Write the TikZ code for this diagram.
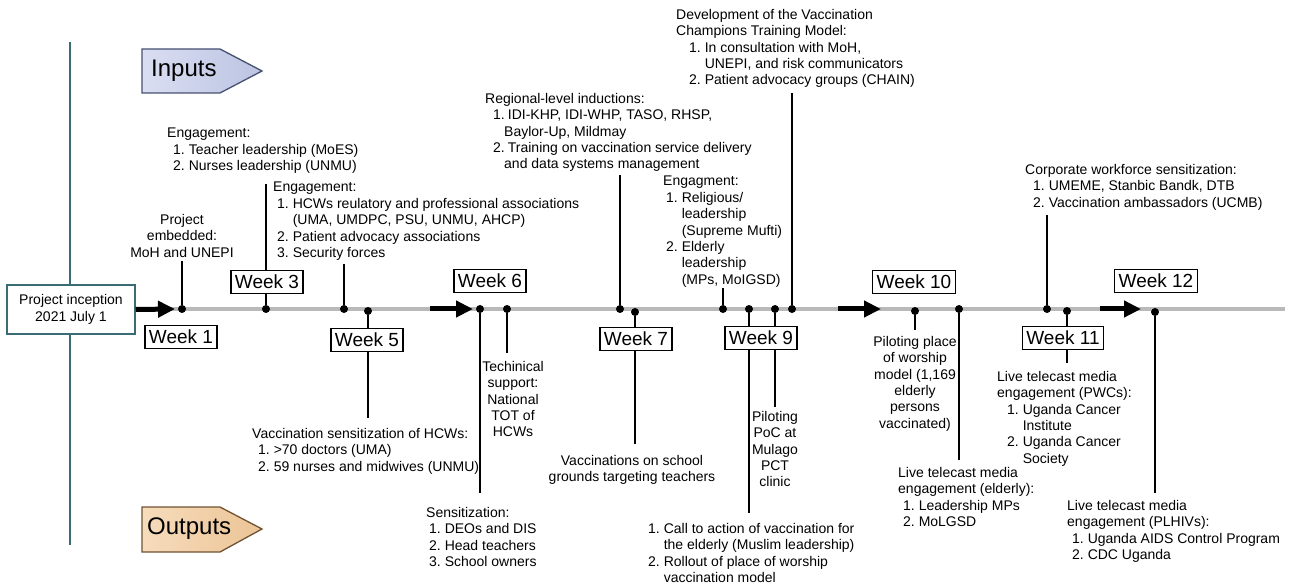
\documentclass[tikz,border=0pt]{standalone}
\usepackage{fontspec}
\setmainfont{Liberation Sans}
\usetikzlibrary{arrows.meta}

\definecolor{tealline}{RGB}{58,108,118}
\definecolor{timegray}{RGB}{185,185,185}
\definecolor{inL}{RGB}{218,222,242}
\definecolor{inR}{RGB}{188,196,226}
\definecolor{inBorder}{RGB}{70,80,112}
\definecolor{outL}{RGB}{246,220,188}
\definecolor{outR}{RGB}{236,196,150}
\definecolor{outBorder}{RGB}{112,82,50}

% numbered list lines
\newcommand{\nitem}[2]{\hspace*{#1pt}#2.\ }
\newcommand{\ncont}[1]{\hspace*{#1pt}\phantom{1.\ }}

\tikzset{
  txt/.style={font=\fontsize{14}{16.4}\selectfont, inner sep=0pt, align=left, anchor=north west},
  ctxt/.style={txt, align=center, anchor=north},
  week/.style={draw, line width=1.2pt, fill=white, font=\fontsize{19}{22}\selectfont,
    inner xsep=4pt, inner ysep=0pt, minimum height=23.5pt},
  incep/.style={draw=tealline, line width=1.5pt, fill=white, align=center,
    font=\fontsize{14}{16.4}\selectfont, minimum width=128pt, minimum height=49pt, inner sep=0pt},
  tagtxt/.style={font=\fontsize{24}{28}\selectfont, inner sep=0pt, anchor=west},
  dot/.style={circle, fill=black, inner sep=0pt, minimum size=8pt},
  stem/.style={line width=1.7pt},
  totext/.style={stem, shorten >=6pt},
  bigarrow/.style={line width=5pt, -{Triangle[length=17pt, width=16pt]}},
}

\begin{document}
\begin{tikzpicture}[x=1pt, y=-1pt]
\useasboundingbox (0,0) rectangle (1294,585);

% frame and time line
\coordinate (vtop) at (70,42);
\coordinate (vbot) at (70,545);
\draw[tealline, line width=1.5pt] (vtop) -- (vbot);
\coordinate (tlstart) at (135,309);
\coordinate (tlend) at (1285,309);
\draw[timegray, line width=3.5pt] (tlstart) -- (tlend);

\node[incep] (incep) at (71,309.5) {Project inception\\2021 July 1};

% inputs / outputs tags
\draw[inBorder, line width=1.3pt, left color=inL, right color=inR]
  (142,49) -- (220,49) -- (262,71) -- (220,93) -- (142,93) -- cycle;
\node[tagtxt] (inputs) at (151,71) {Inputs};
\draw[outBorder, line width=1.3pt, left color=outL, right color=outR]
  (142,507) -- (220,507) -- (262,529) -- (220,552) -- (142,552) -- cycle;
\node[tagtxt] (outputs) at (147,529) {Outputs};

% heavy arrows on the time line
\coordinate (tip1) at (175,309);
\coordinate (tail2) at (430,309);
\coordinate (tip2) at (473,309);
\coordinate (tail3) at (838,309);
\coordinate (tip3) at (881,309);
\coordinate (tail4) at (1100,309);
\coordinate (tip4) at (1141,309);
\draw[bigarrow] (incep.east) -- (tip1);
\draw[bigarrow] (tail2) -- (tip2);
\draw[bigarrow] (tail3) -- (tip3);
\draw[bigarrow] (tail4) -- (tip4);

% week labels
\node[week] (wk1) at (181,337) {Week 1};
\node[week] (wk3) at (267,282) {Week 3};
\node[week] (wk5) at (367,340) {Week 5};
\node[week] (wk6) at (490,281) {Week 6};
\node[week] (wk7) at (636,339) {Week 7};
\node[week] (wk9) at (761,338) {Week 9};
\node[week] (wk10) at (914,282) {Week 10};
\node[week] (wk11) at (1063,338) {Week 11};
\node[week] (wk12) at (1156,281) {Week 12};

% events on the time line
\foreach \n/\x/\y in {Embed/182/309, Wk3/266/309, Hcw/344/309, Wk5/368/311,
    Sens/480/309, Tech/507/309, Region/620/309, Wk7/635/312, Relig/723/309,
    Call/749/309, Poc/775/309, Devel/792/309, Worship/915/311, Elder/959/309,
    Corp/1047/309, Wk11/1067/311, Plhiv/1155/312}
  \node[dot] (d\n) at (\x,\y) {};

% inputs (above)
\node[ctxt] (tEmbed) at (182,214) {Project\\embedded:\\MoH and UNEPI};
\node[txt] (tTeach) at (167,128) {Engagement:\\
  \nitem{6}{1}Teacher leadership (MoES)\\
  \nitem{6}{2}Nurses leadership (UNMU)};
\node[txt] (tHcw) at (273,182) {Engagement:\\
  \nitem{4}{1}HCWs reulatory and professional associations\\
  \ncont{4}(UMA, UMDPC, PSU, UNMU, AHCP)\\
  \nitem{4}{2}Patient advocacy associations\\
  \nitem{4}{3}Security forces};
\node[txt] (tRegion) at (485,93) {Regional-level inductions:\\
  \hspace*{8pt}1.\hspace{3pt}IDI-KHP, IDI-WHP, TASO, RHSP,\\
  \hspace*{19pt}Baylor-Up, Mildmay\\
  \hspace*{8pt}2.\hspace{3pt}Training on vaccination service delivery\\
  \hspace*{19pt}and data systems management};
\node[txt] (tRelig) at (663,176) {Engagment:\\
  \nitem{3}{1}Religious/\\
  \ncont{3}leadership\\
  \ncont{3}(Supreme Mufti)\\
  \nitem{3}{2}Elderly\\
  \ncont{3}leadership\\
  \ncont{3}(MPs, MoIGSD)};
\node[txt] (tDevel) at (676,9) {Development of the Vaccination\\
  Champions Training Model:\\
  \nitem{13}{1}In consultation with MoH,\\
  \ncont{13}UNEPI, and risk communicators\\
  \nitem{13}{2}Patient advocacy groups (CHAIN)};
\node[txt] (tCorp) at (1025,164) {Corporate workforce sensitization:\\
  \nitem{8}{1}UMEME, Stanbic Bandk, DTB\\
  \nitem{8}{2}Vaccination ambassadors (UCMB)};

% outputs (below)
\node[txt] (tVacc) at (252,428) {Vaccination sensitization of HCWs:\\
  \nitem{6}{1}>70 doctors (UMA)\\
  \nitem{6}{2}59 nurses and midwives (UNMU)};
\node[txt] (tSens) at (426,507) {Sensitization:\\
  \nitem{3}{1}DEOs and DIS\\
  \nitem{3}{2}Head teachers\\
  \nitem{3}{3}School owners};
\node[ctxt] (tTech) at (513,361) {Techinical\\support:\\National\\TOT of\\HCWs};
\node[ctxt] (tSchool) at (632,455) {Vaccinations on school\\grounds targeting teachers};
\node[txt] (tCall) at (648,523) {\nitem{0}{1}Call to action of vaccination for\\
  \ncont{0}the elderly (Muslim leadership)\\
  \nitem{0}{2}Rollout of place of worship\\
  \ncont{0}vaccination model};
\node[ctxt] (tPoc) at (775,411) {Piloting\\PoC at\\Mulago\\PCT\\clinic};
\node[ctxt] (tWorship) at (915,336) {Piloting place\\of worship\\model (1,169\\elderly\\persons\\vaccinated)};
\node[txt] (tElder) at (898,467) {Live telecast media\\
  engagement (elderly):\\
  \nitem{5}{1}Leadership MPs\\
  \nitem{5}{2}MoLGSD};
\node[txt] (tPwc) at (997,371) {Live telecast media\\
  engagement (PWCs):\\
  \nitem{10}{1}Uganda Cancer\\
  \ncont{10}Institute\\
  \nitem{10}{2}Uganda Cancer\\
  \ncont{10}Society};
\node[txt] (tPlhiv) at (1067,500) {Live telecast media\\
  engagement (PLHIVs):\\
  \nitem{5}{1}Uganda AIDS Control Program\\
  \nitem{5}{2}CDC Uganda};

% connectors
\draw[totext, shorten >=4pt] (dEmbed) -- (dEmbed |- tEmbed.south);
\draw[stem] (dWk3) -- (dWk3 |- wk3.south);
\draw[totext, shorten >=10pt] (dWk3 |- wk3.north) -- (dWk3 |- tTeach.south);
\draw[totext, shorten >=3pt] (dHcw) -- (dHcw |- tHcw.south);
\draw[totext, shorten >=3pt] (dRegion) -- (dRegion |- tRegion.south);
\draw[totext, shorten >=1pt] (dRelig) -- (dRelig |- tRelig.south);
\draw[totext, shorten >=5pt] (dDevel) -- (dDevel |- tDevel.south);
\draw[totext, shorten >=5pt] (dCorp) -- (dCorp |- tCorp.south);
\draw[stem] (dWk5) -- (dWk5 |- wk5.north);
\draw[totext, shorten >=10pt] (dWk5 |- wk5.south) -- (dWk5 |- tVacc.north);
\draw[totext, shorten >=14pt] (dSens) -- (dSens |- tSens.north);
\draw[totext, shorten >=8pt] (dTech) -- (dTech |- tTech.north);
\draw[stem] (dWk7) -- (dWk7 |- wk7.north);
\draw[totext, shorten >=11pt] (dWk7 |- wk7.south) -- (dWk7 |- tSchool.north);
\draw[stem] (dCall) -- (dCall |- wk9.north);
\draw[totext, shorten >=10pt] (dCall |- wk9.south) -- (dCall |- tCall.north);
\draw[stem] (dPoc) -- (dPoc |- wk9.north);
\draw[totext, shorten >=4pt] (dPoc |- wk9.south) -- (dPoc |- tPoc.north);
\draw[totext] (dWorship) -- (dWorship |- tWorship.north);
\draw[totext, shorten >=7pt] (dElder) -- (dElder |- tElder.north);
\draw[stem] (dWk11) -- (dWk11 |- wk11.north);
\draw[totext, shorten >=8pt] (dWk11 |- wk11.south) -- (dWk11 |- tPwc.north);
\draw[totext, shorten >=7pt] (dPlhiv) -- (dPlhiv |- tPlhiv.north);
\end{tikzpicture}
\end{document}
